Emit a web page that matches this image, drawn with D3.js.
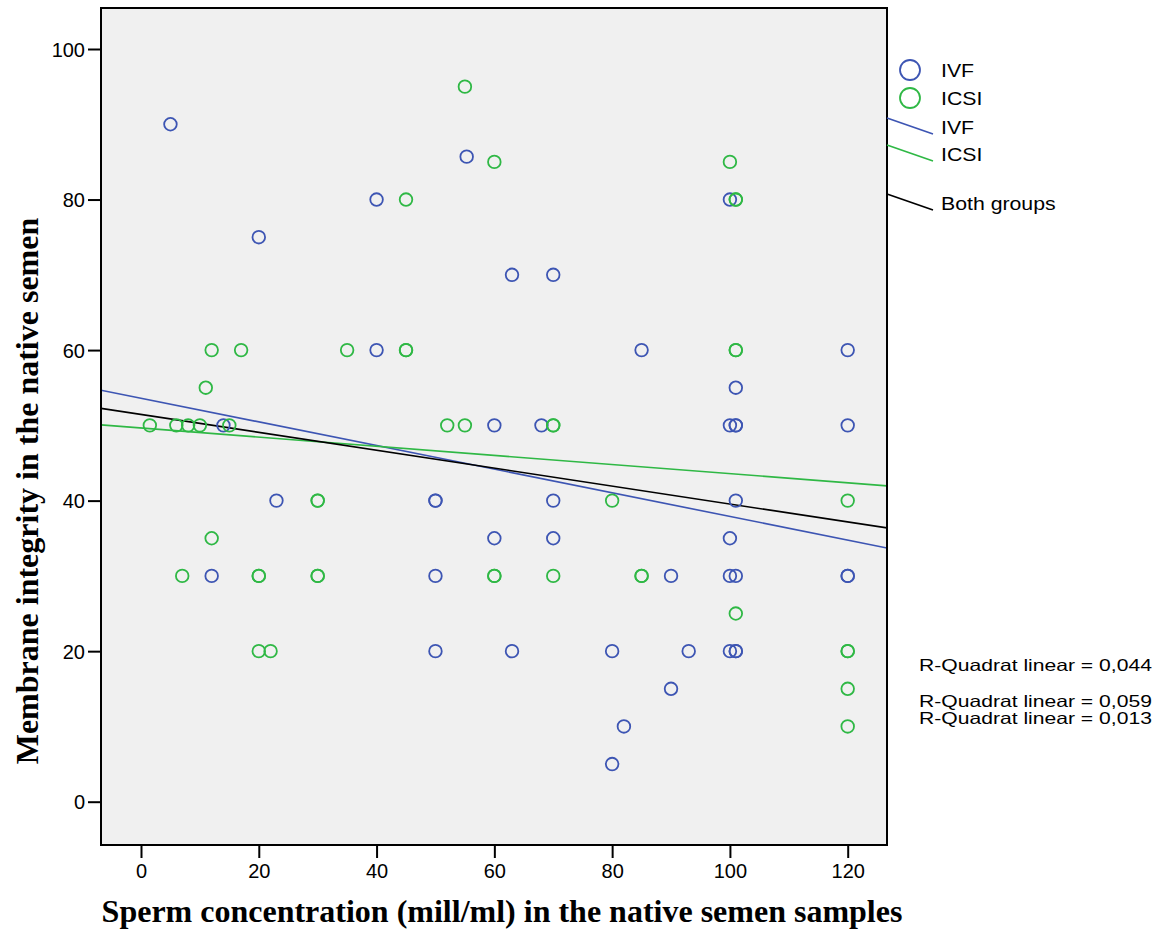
<!DOCTYPE html>
<html>
<head>
<meta charset="utf-8">
<script src="https://cdn.jsdelivr.net/npm/d3@7"></script>
<style>
  html, body { margin: 0; padding: 0; background: #ffffff; }
  svg { display: block; }
</style>
</head>
<body>
<svg id="chart" width="1163" height="931"></svg>
<script>
// Sperm concentration (mill/ml) and membrane integrity (%) per patient
const ivfX = [5, 20, 40, 55.3, 63, 70, 40, 85, 120, 100, 101, 14, 60, 68, 100, 101, 101, 120,
              23, 50, 50, 70, 101, 60, 70, 100, 12, 50, 90, 100, 101, 120, 120,
              50, 63, 80, 93, 100, 101, 101, 90, 82, 80];
const ivfY = [90, 75, 80, 85.7, 70, 70, 60, 60, 60, 80, 55, 50, 50, 50, 50, 50, 50, 50,
              40, 40, 40, 40, 40, 35, 35, 35, 30, 30, 30, 30, 30, 30, 30,
              20, 20, 20, 20, 20, 20, 20, 15, 10, 5];

const icsiX = [55, 60, 100, 45, 101, 101, 12, 17, 35, 45, 45, 101, 101, 11,
               1.5, 6, 8, 10, 15, 52, 55, 70, 70, 30, 30, 80, 120, 12,
               7, 20, 20, 30, 30, 60, 60, 70, 85, 85, 101, 20, 22, 120, 120, 120, 120];
const icsiY = [95, 85, 85, 80, 80, 80, 60, 60, 60, 60, 60, 60, 60, 55,
               50, 50, 50, 50, 50, 50, 50, 50, 50, 40, 40, 40, 40, 35,
               30, 30, 30, 30, 30, 30, 30, 30, 30, 30, 25, 20, 20, 20, 20, 15, 10];

// Linear fits: [intercept, slope]
const fitIVF = [53.6, -0.157];
const fitICSI = [49.65, -0.0607];
const fitBoth = [51.45, -0.119];

const xTicks = [0, 20, 40, 60, 80, 100, 120];
const yTicks = [0, 20, 40, 60, 80, 100];
const rSquared = ["0,044", "0,059", "0,013"];

const blue = "#3d55b3";
const green = "#2fb845";
const sans = "Liberation Sans, Arial, sans-serif";
const serif = "Liberation Serif, Times New Roman, serif";

const svg = d3.select("#chart");
const plot = { left: 101, right: 887, top: 8, bottom: 845 };

const x = d3.scaleLinear().domain([0, 120]).range([141, 847.7]);
const y = d3.scaleLinear().domain([0, 100]).range([801.7, 49]);
const xMin = x.invert(plot.left), xMax = x.invert(plot.right);

// text drawn slightly wider than its height, like the SPSS export
function wideText(parent, tx, ty, str, size, stretch) {
  return parent.append("text")
    .attr("transform", `translate(${tx},${ty}) scale(${stretch},1)`)
    .attr("dy", "0.36em")
    .style("font-family", sans).style("font-size", size + "px")
    .text(str);
}

// plot background
svg.append("rect")
  .attr("x", plot.left).attr("y", plot.top)
  .attr("width", plot.right - plot.left).attr("height", plot.bottom - plot.top)
  .attr("fill", "#f0f0f0");

// axes
const xAxis = d3.axisBottom(x).tickValues(xTicks).tickSize(13).tickPadding(6).tickFormat(d3.format("d"));
const yAxis = d3.axisLeft(y).tickValues(yTicks).tickSize(13).tickPadding(3).tickFormat(d3.format("d"));

const gx = svg.append("g").attr("transform", `translate(0,${plot.bottom})`).call(xAxis);
const gy = svg.append("g").attr("transform", `translate(${plot.left},0)`).call(yAxis);
[gx, gy].forEach(g => {
  g.select(".domain").remove();
  g.selectAll(".tick line").attr("stroke", "#000").attr("stroke-width", 2);
  g.selectAll(".tick text").attr("fill", "#000")
    .style("font-family", sans).style("font-size", "20px");
});
gy.selectAll(".tick text").attr("dy", "0.36em");

// fit lines clipped to the plot area
svg.append("clipPath").attr("id", "plotclip")
  .append("rect").attr("x", plot.left).attr("y", plot.top)
  .attr("width", plot.right - plot.left).attr("height", plot.bottom - plot.top);

const fits = [
  { fit: fitIVF, color: blue },
  { fit: fitICSI, color: green },
  { fit: fitBoth, color: "#000" }
];
const lineGen = d3.line().x(d => x(d[0])).y(d => y(d[1]));
svg.append("g").attr("clip-path", "url(#plotclip)")
  .selectAll("path").data(fits).join("path")
  .attr("d", d => lineGen([[xMin, d.fit[0] + d.fit[1] * xMin], [xMax, d.fit[0] + d.fit[1] * xMax]]))
  .attr("fill", "none").attr("stroke", d => d.color).attr("stroke-width", 1.6);

// points
const pts = svg.append("g");
const drawPoints = (xs, ys, color) => {
  pts.append("g").selectAll("circle").data(xs.map((v, i) => [v, ys[i]])).join("circle")
    .attr("cx", d => x(d[0])).attr("cy", d => y(d[1])).attr("r", 6.3)
    .attr("fill", "none").attr("stroke", color).attr("stroke-width", 1.8);
};
drawPoints(ivfX, ivfY, blue);
drawPoints(icsiX, icsiY, green);

// plot frame
svg.append("rect")
  .attr("x", plot.left).attr("y", plot.top)
  .attr("width", plot.right - plot.left).attr("height", plot.bottom - plot.top)
  .attr("fill", "none").attr("stroke", "#000").attr("stroke-width", 2);

// legend: marker keys
const leg = svg.append("g");
[["IVF", blue, 70], ["ICSI", green, 98]].forEach(([t, c, cy]) => {
  leg.append("circle").attr("cx", 910).attr("cy", cy).attr("r", 10)
    .attr("fill", "none").attr("stroke", c).attr("stroke-width", 1.8);
  wideText(leg, 941, cy, t, 18.5, 1.15);
});
// legend: fit line keys, short slanted strokes from the frame
const keyRows = [["IVF", blue, 127], ["ICSI", green, 154], ["Both groups", "#000", 203]];
keyRows.forEach(([t, c, ty]) => {
  leg.append("line").attr("x1", plot.right).attr("y1", ty - 9)
    .attr("x2", 933).attr("y2", ty + 7)
    .attr("stroke", c).attr("stroke-width", 1.6);
  wideText(leg, 941, ty, t, 18.5, 1.15);
});

// R-squared annotations
const rg = svg.append("g");
[665, 701, 718].forEach((yy, i) => {
  wideText(rg, 919, yy, `R-Quadrat linear = ${rSquared[i]}`, 16.5, 1.28);
});

// axis titles
svg.append("text")
  .attr("x", 502).attr("y", 922)
  .attr("text-anchor", "middle")
  .style("font-family", serif)
  .style("font-weight", "bold").style("font-size", "32px")
  .text("Sperm concentration (mill/ml) in the native semen samples");

svg.append("text")
  .attr("transform", "translate(38,491) rotate(-90)")
  .attr("text-anchor", "middle")
  .style("font-family", serif)
  .style("font-weight", "bold").style("font-size", "32px")
  .text("Membrane integrity in the native semen");
</script>
</body>
</html>
